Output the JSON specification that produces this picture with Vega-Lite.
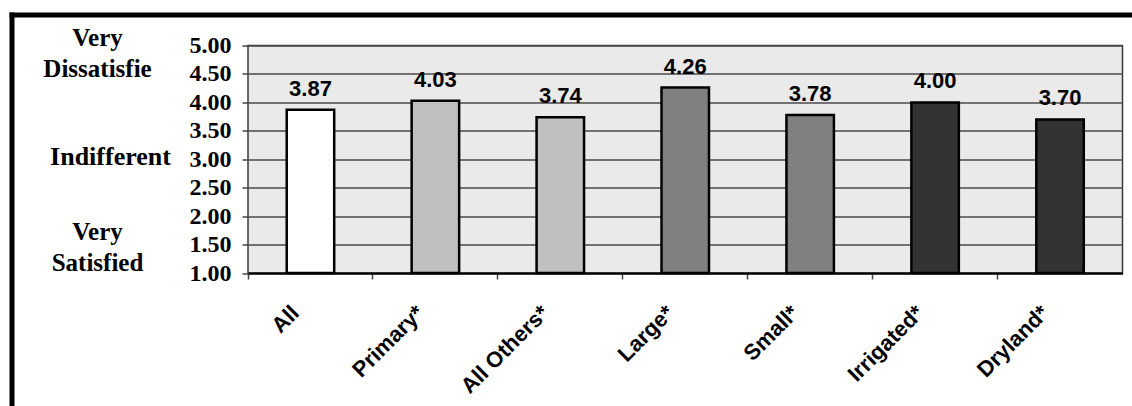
{
  "$schema": "https://vega.github.io/schema/vega-lite/v6.json",
  "width": 874.5,
  "height": 227.5,
  "autosize": {"type": "none"},
  "padding": {"left": 248, "top": 45.5, "right": 9.5, "bottom": 133},
  "background": "white",
  "config": {"view": {"fill": "#eaeaea", "stroke": "#3a3a3a", "strokeWidth": 1.5}},
  "data": {"values": [
    {"cat": "All", "group": "Overall", "value": 3.87},
    {"cat": "Primary*", "group": "Operator", "value": 4.03},
    {"cat": "All Others*", "group": "Operator", "value": 3.74},
    {"cat": "Large*", "group": "Size", "value": 4.26},
    {"cat": "Small*", "group": "Size", "value": 3.78},
    {"cat": "Irrigated*", "group": "Irrigation", "value": 4.00},
    {"cat": "Dryland*", "group": "Irrigation", "value": 3.70}
  ]},
  "resolve": {"scale": {"x": "independent", "y": "independent"}, "axis": {"x": "independent", "y": "independent"}},
  "layer": [
    {
      "mark": {"type": "bar", "stroke": "black", "strokeWidth": 2.5, "width": {"band": 0.38}},
      "encoding": {
        "x": {"field": "cat", "type": "nominal", "sort": null,
          "scale": {"paddingInner": 0, "paddingOuter": 0},
          "axis": {"orient": "bottom", "title": null, "bandPosition": 0, "labelAngle": -45, "labelAlign": "right", "labelBaseline": "middle", "labelOffset": -15, "labelPadding": 30, "labelFont": "Liberation Sans", "labelFontWeight": "bold", "labelFontSize": 22, "labelColor": "black", "ticks": true, "tickSize": 6, "tickColor": "#444444", "tickWidth": 1.5, "domain": true, "domainColor": "black", "domainWidth": 2, "grid": false}},
        "y": {"field": "value", "type": "quantitative",
          "scale": {"domain": [1, 5], "nice": false, "zero": false},
          "axis": {"orient": "left", "title": null, "values": [1, 1.5, 2, 2.5, 3, 3.5, 4, 4.5, 5], "format": ".2f", "labelFont": "Liberation Serif", "labelFontWeight": "bold", "labelFontSize": 24, "labelColor": "black", "labelPadding": 11, "tickSize": 6, "tickColor": "#444444", "tickWidth": 1.5, "domain": false, "grid": true, "gridColor": "#4a4a4a", "gridWidth": 1.5, "labelOverlap": false, "labelFlush": false}},
        "y2": {"datum": 1},
        "fill": {"field": "group", "type": "nominal",
          "scale": {"domain": ["Overall", "Operator", "Size", "Irrigation"], "range": ["#ffffff", "#c0c0c0", "#808080", "#333333"]},
          "legend": null}
      }
    },
    {
      "mark": {"type": "text", "font": "Liberation Sans", "fontWeight": "bold", "fontSize": 22, "baseline": "alphabetic", "dy": -14, "color": "black"},
      "encoding": {
        "x": {"field": "cat", "type": "nominal", "sort": null, "scale": {"paddingInner": 0, "paddingOuter": 0}, "axis": null},
        "y": {"field": "value", "type": "quantitative",
          "scale": {"domain": [1, 5.5], "range": [227.5, -28.4375], "nice": false, "zero": false},
          "axis": {"orient": "left", "title": null, "values": [5.132, 4.604, 1.738, 1.176],
            "labelExpr": "datum.value > 5 ? 'Very' : datum.value > 4 ? 'Dissatisfie' : datum.value > 1.5 ? 'Very' : 'Satisfied'",
            "offset": 151, "ticks": false, "tickSize": 0, "domain": false, "grid": false, "labelPadding": 0, "labelAlign": "center", "labelBaseline": "middle", "labelFont": "Liberation Serif", "labelFontWeight": "bold", "labelFontSize": 25, "labelColor": "black", "labelOverlap": false, "labelFlush": false}},
        "text": {"field": "value", "type": "quantitative", "format": ".2f"}
      }
    },
    {
      "data": {"values": [{"k": 0}]},
      "mark": {"type": "point", "opacity": 0},
      "encoding": {
        "y": {"datum": 3, "type": "quantitative",
          "scale": {"domain": [1, 5], "nice": false, "zero": false},
          "axis": {"orient": "left", "title": null, "values": [3.057],
            "labelExpr": "'Indifferent'",
            "offset": 138, "ticks": false, "tickSize": 0, "domain": false, "grid": false, "labelPadding": 0, "labelAlign": "center", "labelBaseline": "middle", "labelFont": "Liberation Serif", "labelFontWeight": "bold", "labelFontSize": 26, "labelColor": "black", "labelOverlap": false, "labelFlush": false}}
      }
    },
    {
      "data": {"values": [{"k": 0}]},
      "mark": {"type": "point", "opacity": 0},
      "encoding": {
        "x": {"datum": 0, "type": "quantitative",
          "scale": {"domain": [0, 1], "range": [-239, 900]},
          "axis": {"orient": "top", "offset": 31, "title": null, "labels": false, "ticks": false, "grid": false, "domain": true, "domainColor": "black", "domainWidth": 5}},
        "y": {"datum": 0, "type": "quantitative",
          "scale": {"domain": [0, 1], "range": [400, -33.5]},
          "axis": {"orient": "left", "offset": 236.5, "title": null, "labels": false, "ticks": false, "grid": false, "domain": true, "domainColor": "black", "domainWidth": 5}}
      }
    }
  ]
}
